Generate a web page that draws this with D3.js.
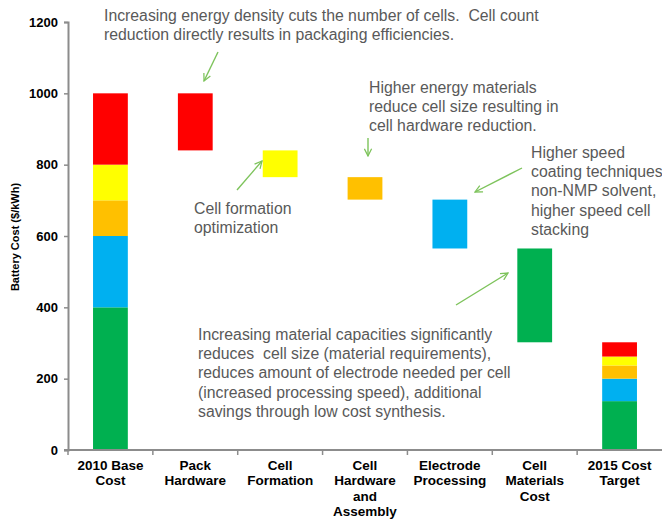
<!DOCTYPE html>
<html>
<head>
<meta charset="utf-8">
<script src="https://cdn.jsdelivr.net/npm/d3@7"></script>
<style>
  html, body { margin: 0; padding: 0; background: #fff; }
  svg { display: block; }
</style>
</head>
<body>
<svg id="chart" width="662" height="520"></svg>
<script>
// Cost categories along the x axis (each entry is split into its label lines)
const categoryLabels = [
  ["2010 Base", "Cost"],
  ["Pack", "Hardware"],
  ["Cell", "Formation"],
  ["Cell", "Hardware", "and", "Assembly"],
  ["Electrode", "Processing"],
  ["Cell", "Materials", "Cost"],
  ["2015 Cost", "Target"]
];
const categories = categoryLabels.map(l => l.join(" "));

// Cost components, stacked bottom to top in the total bars
const components = ["Cell Materials", "Electrode Processing", "Cell Hardware", "Cell Formation", "Pack Hardware"];
const componentColors = ["#00B050", "#00B0F0", "#FFC000", "#FFFF00", "#FF0000"];

// 2010 cost of each component ($/kWh)
const baseValues = [400, 200, 100, 100, 200];
// Reduction achieved in each component ($/kWh)
const reductions = [263, 137, 63, 75, 160];
// Order in which the reductions step down the waterfall (component index)
const stepOrder = [4, 3, 2, 1, 0];

// 2015 target cost per component
const targetValues = baseValues.map((v, i) => v - reductions[i]);

const yTicks = [0, 200, 400, 600, 800, 1000, 1200];

// Callout notes: lines of text and the anchor of the first baseline
const notes = [
  { x: 104, y: 21, lines: ["Increasing energy density cuts the number of cells.  Cell count", "reduction directly results in packaging efficiencies."] },
  { x: 369, y: 93, lines: ["Higher energy materials", "reduce cell size resulting in", "cell hardware reduction."] },
  { x: 531, y: 158, lines: ["Higher speed", "coating techniques", "non-NMP solvent,", "higher speed cell", "stacking"] },
  { x: 194, y: 214, lines: ["Cell formation", "optimization"] },
  { x: 198, y: 340, lines: ["Increasing material capacities significantly", "reduces  cell size (material requirements),", "reduces amount of electrode needed per cell", "(increased processing speed), additional", "savings through low cost synthesis."] }
];
// Arrows from each note toward its bar: [x1, y1, x2, y2]
const arrows = [
  [218, 52, 204, 81],
  [368, 138, 368, 156],
  [522, 168, 475, 192],
  [237, 190, 262, 161],
  [456, 305, 508, 273]
];

const svg = d3.select("#chart");
const font = "'Liberation Sans', Arial, sans-serif";

const x = d3.scaleBand().domain(categories).range([68, 662]).padding(0);
const barW = x.bandwidth() * 0.41;
const barX = c => x(c) + (x.bandwidth() - barW) / 2;
const y = d3.scaleLinear().domain([0, 1200]).range([450, 22]);

// Build bar segments
const segments = [];
// 2010 stacked total
let acc = 0;
baseValues.forEach((v, i) => {
  segments.push({ cat: categories[0], y0: acc, y1: acc + v, color: componentColors[i] });
  acc += v;
});
// Waterfall steps
let running = acc;
stepOrder.forEach((ci, k) => {
  const r = reductions[ci];
  segments.push({ cat: categories[k + 1], y0: running - r, y1: running, color: componentColors[ci] });
  running -= r;
});
// 2015 stacked target
acc = 0;
targetValues.forEach((v, i) => {
  segments.push({ cat: categories[6], y0: acc, y1: acc + v, color: componentColors[i] });
  acc += v;
});

svg.append("g").selectAll("rect")
  .data(segments)
  .join("rect")
  .attr("x", d => barX(d.cat))
  .attr("width", barW)
  .attr("y", d => y(d.y1))
  .attr("height", d => y(d.y0) - y(d.y1))
  .attr("fill", d => d.color);

// Y axis
const yAxis = svg.append("g")
  .attr("transform", "translate(68,0)")
  .call(d3.axisLeft(y).tickValues(yTicks).tickSize(4).tickPadding(6).tickFormat(d3.format("d")));
yAxis.select(".domain").attr("stroke", "#8c8c8c").attr("stroke-width", 2);
yAxis.selectAll(".tick line").attr("stroke", "#8c8c8c").attr("stroke-width", 1.5);
yAxis.selectAll(".tick text")
  .attr("font-family", font).attr("font-size", 13).attr("font-weight", "bold").attr("fill", "#000");

// X axis line with ticks at category boundaries
const xAxisG = svg.append("g");
xAxisG.append("line")
  .attr("x1", 64).attr("x2", 662).attr("y1", y(0)).attr("y2", y(0))
  .attr("stroke", "#8c8c8c").attr("stroke-width", 2);
xAxisG.selectAll("line.tk")
  .data(categories)
  .join("line")
  .attr("class", "tk")
  .attr("x1", d => x(d)).attr("x2", d => x(d))
  .attr("y1", y(0)).attr("y2", y(0) + 5)
  .attr("stroke", "#8c8c8c").attr("stroke-width", 1.5);

// Category labels
xAxisG.selectAll("text.cat")
  .data(categoryLabels)
  .join("text")
  .attr("class", "cat")
  .attr("font-family", font).attr("font-size", 13.5).attr("font-weight", "bold")
  .attr("text-anchor", "middle")
  .attr("fill", "#000")
  .each(function (lines, i) {
    const t = d3.select(this);
    const cx = x(categories[i]) + x.bandwidth() / 2;
    lines.forEach((ln, j) => {
      t.append("tspan").attr("x", cx).attr("y", 470 + j * 15.3).text(ln);
    });
  });

// Y axis title
svg.append("text")
  .attr("transform", "translate(19,237) rotate(-90)")
  .attr("text-anchor", "middle")
  .attr("font-family", font).attr("font-size", 11).attr("font-weight", "bold")
  .attr("fill", "#000")
  .text("Battery Cost ($/kWh)");

// Arrowhead marker
svg.append("defs").append("marker")
  .attr("id", "arrowHead")
  .attr("viewBox", "0 0 10 10")
  .attr("refX", 9).attr("refY", 5)
  .attr("markerWidth", 9).attr("markerHeight", 9)
  .attr("markerUnits", "userSpaceOnUse")
  .attr("orient", "auto")
  .append("path")
  .attr("d", "M1,1 L9,5 L1,9")
  .attr("fill", "none")
  .attr("stroke", "#7dc35b")
  .attr("stroke-width", 1.4);

svg.append("g").selectAll("line")
  .data(arrows)
  .join("line")
  .attr("x1", d => d[0]).attr("y1", d => d[1])
  .attr("x2", d => d[2]).attr("y2", d => d[3])
  .attr("stroke", "#7dc35b").attr("stroke-width", 1.4)
  .attr("marker-end", "url(#arrowHead)");

// Callout notes
svg.append("g").selectAll("text")
  .data(notes)
  .join("text")
  .attr("font-family", font).attr("font-size", 15.8)
  .attr("fill", "#595959")
  .style("white-space", "pre")
  .each(function (n) {
    const t = d3.select(this);
    n.lines.forEach((ln, j) => {
      t.append("tspan").attr("x", n.x).attr("y", n.y + j * 19.2).text(ln);
    });
  });
</script>
</body>
</html>
